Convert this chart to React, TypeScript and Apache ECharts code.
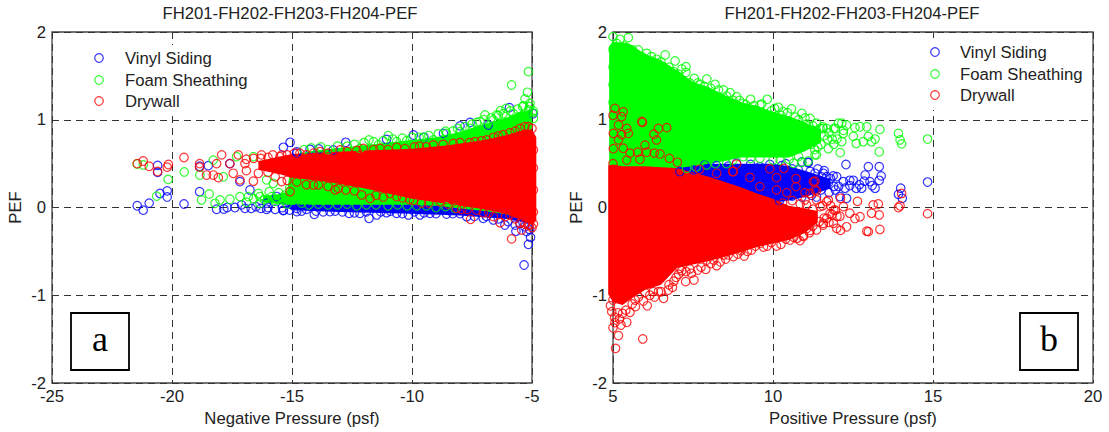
import React, { useEffect, useRef } from "react";
import * as echarts from "echarts";

const titleText = "FH201-FH202-FH203-FH204-PEF";
const materials = ["Vinyl Siding", "Foam Sheathing", "Drywall"];
const colors = ["#0000ff", "#00ff00", "#ff0000"];
const yTicks = [-2, -1, 0, 1, 2];

// Solid core of each dense cloud: [pressure, upper PEF, lower PEF]
const bandLeftBlue = [[-15.2,.07,0],[-15,.25,-.03],[-13,.55,-.05],[-10,.65,-.07],[-8,.75,-.09],[-6,.9,-.13],[-5,.95,-.19]];
const bandLeftGreen = [[-16.2,.13,.06],[-15.6,.15,.04],[-15.2,.18,.03],[-15,.6,.03],[-14,.65,.03],[-12,.71,.03],[-10,.77,.03],[-9,.8,.02],[-8,.86,-.01],[-7,.95,-.04],[-6,1.03,-.08],[-5.5,1.09,-.11],[-5,1.11,-.15]];
const bandLeftRed = [[-16.4,.53,.43],[-15.5,.58,.38],[-15,.61,.34],[-13.5,.63,.29],[-12,.65,.22],[-10,.67,.1],[-8.5,.71,.04],[-7,.77,-.02],[-6,.83,-.08],[-5.4,.88,-.15],[-5,.89,-.2],[-4.82,.8,-.15]];
const bandRightBlue = [[7,.48,.2],[8,.5,.2],[9,.5,.1],[10,.5,.05],[10.5,.47,.08],[11,.42,.12],[11.5,.36,.18],[11.8,.32,.22]];
const bandRightGreen = [[4.88,1.84,.45],[5,1.89,.45],[5.5,1.87,.45],[6,1.75,.45],[6.5,1.68,.45],[7,1.56,.45],[7.5,1.43,.47],[8,1.37,.5],[8.5,1.28,.53],[9,1.2,.57],[9.5,1.16,.57],[10,1.09,.57],[10.5,1.04,.57],[11,.97,.64],[11.5,.89,.74]];
const bandRightRed = [[4.85,.48,-.99],[5,.49,-1.08],[5.3,.47,-1.11],[5.6,.47,-1.03],[6,.47,-.94],[6.5,.46,-.88],[7,.45,-.69],[7.5,.4,-.65],[8,.35,-.61],[8.5,.29,-.56],[9,.23,-.51],[9.5,.16,-.45],[10,.1,-.41],[10.5,.02,-.37],[11,-.01,-.29],[11.4,-.04,-.17]];

// Individually visible circles: [pressure, PEF]
const pointsLeftBlue = [[-21.45,.02],[-21.2,-.03],[-20.95,.05],[-20.5,.16],[-20.2,.19],[-20.2,.12],[-20.6,.48],[-20.6,.4],[-19.5,.04],[-18.85,.18],[-18.85,.47],[-15.08,.743],[-15.36,.686],[-14.8,.62],[-14.25,.663],[-13.88,.667],[-13.28,.655],[-12.76,.743],[-11.06,.777],[-9.94,.826],[-9.5,.8],[-8.69,.845],[-8,.93],[-7.58,.97],[-6.82,.94],[-5.94,1.138],[-4.95,1.07],[-5.33,-.655],[-5.15,-.42],[-5.06,-.34],[-5.67,-.27],[-6.13,-.2],[-5.22,-.275],[-11.79,-.123],[-14.07,-.078],[-15.36,-.036],[-12.62,-.066],[-11.06,-.059],[-10.15,-.085],[-9.25,-.066],[-8.56,-.074],[-7.72,-.105],[-7.03,-.123],[-6.61,-.142],[-14.8,-.047],[-13.42,-.047],[-12.17,-.066],[-11.47,-.085],[-10.64,-.066],[-9.67,-.085],[-18.14,-.02],[-17.84,-.017],[-17.38,0],[-16.96,-.01],[-16.5,.01],[-16.06,-.02],[-15.36,-.03],[-14.8,-.01],[-18.49,.477],[-17.59,.5],[-17.17,.295],[-14.8,.635],[-16.75,.2],[-16.06,.05],[-15.64,.125],[-17.7,0],[-17.1,.03],[-16.7,-.01],[-16.3,-.01],[-16,0],[-15.7,-.02],[-15.4,0],[-15.1,-.03],[-14.6,-.04],[-14.4,-.02],[-14,-.04],[-13.7,-.05],[-13.2,-.04],[-12.9,-.05],[-12.4,-.06],[-11.9,-.05],[-11.3,-.05],[-10.9,-.04],[-10.4,-.07],[-9.9,-.05],[-9.5,-.06],[-9,-.07],[-8.3,-.07],[-8,-.07],[-7.4,-.1],[-6.9,-.1],[-6.4,-.13],[-6,-.16],[-5.7,-.2],[-5.5,-.18],[-5.3,-.22],[-5.1,-.25]];
const pointsLeftGreen = [[-5.15,1.548],[-5.85,1.396],[-5.19,1.313],[-5.29,1.237],[-5.08,1.187],[-5.39,1.149],[-6.31,1.104],[-6.08,1.13],[-6.96,1.054],[-6.47,1.054],[-7.17,.978],[-8,.864],[-9.53,.8],[-10.22,.762],[-10.99,.819],[-11.79,.769],[-11.4,.712],[-12.17,.674],[-5.78,1.073],[-4.94,1.016],[-5.5,1.035],[-5.15,1.111],[-15.08,.188],[-6.61,.997],[-7.58,.9],[-8.56,.845],[-9.11,.769],[-10.64,.75],[-21.45,.496],[-21.2,.485],[-20.64,.13],[-20.16,.32],[-19.49,.405],[-18.84,.37],[-18.77,.086],[-18.45,.154],[-18.21,.048],[-18,.086],[-17.59,.094],[-17.17,.124],[-18.28,.54],[-17.86,.35],[-17.31,.58],[-16.61,.58],[-16.06,.315],[-15.78,.275],[-16.34,.124],[-15.36,.086],[-16.34,.048],[-16.82,.124],[-15.85,.124],[-14.95,.086],[-14.5,.66],[-14.2,.68],[-13.8,.69],[-13.5,.66],[-13.1,.7],[-12.7,.7],[-12.4,.72],[-12,.74],[-11.6,.75],[-11.2,.76],[-10.8,.78],[-10.4,.79],[-10,.8],[-9.7,.8],[-9.3,.82],[-8.9,.84],[-8.6,.87],[-8.3,.87],[-8.1,.9],[-7.8,.92],[-7.5,.95],[-7.3,.97],[-7,1],[-6.7,1.02],[-6.4,1.05],[-6.2,1.07],[-5.9,1.1],[-5.6,1.12],[-5.35,1.16],[-5.1,1.15],[-4.98,1.08],[-4.95,1.1],[-16.9,.06],[-16.6,.1],[-16.4,.16],[-16.15,.09],[-15.95,.18],[-15.7,.07],[-15.55,.17],[-15.3,.14],[-15.1,.22],[-15.2,.04],[-14.8,.14],[-14.6,.05],[-14.3,.03],[-13.9,.04],[-13.5,.03],[-13.1,.03],[-12.7,.04],[-12.3,.02],[-11.9,.03],[-11.5,.03],[-11,.02],[-10.6,.03],[-10.2,.02],[-9.8,.02],[-9.4,.02],[-9,0],[-8.6,.01],[-8.2,-.01]];
const pointsLeftRed = [[-21.45,.5],[-21.2,.53],[-20.95,.47],[-20.6,.41],[-20.15,.49],[-20.2,.46],[-19.5,.57],[-18.85,.5],[-18.85,.46],[-18.14,.5],[-17.59,.5],[-18.28,.37],[-18.07,.34],[-17.93,.6],[-18.56,.37],[-17.24,.6],[-17.17,.315],[-16.61,.3],[-16.27,.6],[-15.43,.6],[-15.43,.295],[-15.08,.18],[-17.45,.39],[-16.96,.5],[-13.07,.218],[-12.76,.2],[-12.1,.143],[-11.75,.105],[-10.92,.162],[-9.94,.078],[-8.83,.066],[-7.93,-.02],[-7.56,-.135],[-7.03,-.06],[-5.85,-.358],[-6.33,-.173],[-5.43,-.256],[-4.94,-.188],[-5.92,-.085],[-5.15,.921],[-5.92,.853],[-6.4,.815],[-6.89,.769],[-7.38,.75],[-8.28,.731],[-9.69,.7],[-10.64,.686],[-13,.655],[-14.67,.62],[-13.83,.636],[-12.03,.674],[-11.33,.674],[-9.11,.712],[-14.11,.257],[-10.64,.124],[-8.14,-.01],[-6.61,-.104],[-5.5,-.18],[-5.15,-.2],[-4.94,.655],[-4.94,.45],[-4.94,.2],[-4.94,-.05],[-16.9,.55],[-16.6,.56],[-16.3,.56],[-16,.57],[-15.8,.6],[-15.5,.58],[-15.2,.6],[-14.9,.62],[-14.4,.6],[-14.1,.62],[-13.5,.62],[-12.7,.64],[-12.3,.65],[-11.6,.66],[-11,.66],[-10.3,.67],[-9.9,.69],[-9.4,.69],[-8.7,.72],[-8,.74],[-7.6,.74],[-7.1,.76],[-6.6,.8],[-6.2,.83],[-5.7,.87],[-5.5,.9],[-5.3,.92],[-5,.9],[-16.9,.42],[-16.4,.39],[-16,.4],[-15.7,.35],[-15.2,.31],[-14.8,.29],[-14.4,.26],[-13.9,.26],[-13.5,.24],[-13.2,.2],[-12.4,.19],[-11.5,.14],[-11.2,.12],[-10.4,.11],[-10.1,.09],[-9.6,.05],[-9.3,.05],[-8.5,.04],[-7.7,-.02],[-7.3,-.03],[-6.8,-.06],[-6.1,-.1],[-5.7,-.13],[-5.3,-.19],[-5.1,-.2],[-5,-.23]];
const pointsRightBlue = [[12.28,.49],[12.98,.465],[13.32,.465],[13.38,.36],[12.88,.37],[13.32,.31],[13.03,.295],[13.19,.22],[12.77,.22],[12.51,.31],[11.88,.36],[12.2,.295],[11.9,.24],[14.83,.29],[13.99,.22],[13.92,.15],[14.04,.105],[12.3,.105],[12.09,.125],[12.4,.31],[11.52,.35],[11.31,.39],[11.1,.51],[10.9,.52],[11.73,.28],[11.36,.12],[8.24,.477],[8.86,.504],[9.59,.466],[10.27,.477],[11.1,.515],[11.68,.352],[11.99,.352],[11.57,.39],[11.16,.41],[10.79,.428],[7.51,.428],[7.87,.485],[7.09,.41],[10.2,.08],[10.6,.13],[10.9,.12],[11.2,.14],[11.5,.2],[11.75,.17],[11.95,.2],[12.05,.24],[12.25,.22],[12.4,.25],[12.6,.22],[12.7,.26],[12.85,.3],[13.1,.25],[11.8,.33],[11.6,.42],[11.4,.44],[10.6,.44],[10.4,.5],[9.9,.49],[9.3,.49],[8.6,.47]];
const pointsRightGreen = [[5,1.947],[5.22,1.917],[5.48,1.936],[5.79,1.795],[6.05,1.757],[6.36,1.689],[6.63,1.738],[6.94,1.67],[7.28,1.605],[7.28,1.54],[7.54,1.472],[7.93,1.465],[8.19,1.404],[8.66,1.309],[8.86,1.263],[9.3,1.233],[9.82,1.233],[10.17,1.142],[10.58,1.123],[10.9,1.073],[11.16,1.016],[11.68,.9],[11.36,.96],[12.04,.96],[5.11,1.871],[5.64,1.719],[6.89,1.548],[7.72,1.396],[8.45,1.339],[9.07,1.187],[9.59,1.168],[10.32,1.092],[11.47,.9],[11.36,.6],[11.73,.67],[11.1,.53],[10.9,.515],[10.64,.504],[10.22,.54],[9.59,.56],[9.07,.58],[8.55,.5],[7.93,.485],[7.3,.447],[13.34,.89],[13.92,.845],[13.97,.77],[14.02,.725],[14.83,.78],[13.32,.635],[12.1,.625],[12.93,.92],[12.72,.92],[12.56,.91],[12.15,.96],[12.3,.94],[12.98,.81],[13.19,.78],[12.82,.75],[12.6,.73],[12.15,.75],[12.51,.81],[13.08,.75],[12.2,.845],[11.9,.9],[11.57,.9],[11.31,.6],[11.4,.69],[5,1.8],[5,1.6],[5,1.4],[5,1.2],[5.1,1.78],[5.35,1.84],[5.6,1.8],[5.9,1.72],[6.2,1.72],[6.5,1.66],[6.75,1.6],[7.05,1.52],[7.15,1.58],[7.4,1.42],[7.65,1.42],[7.85,1.38],[8.05,1.36],[8.3,1.34],[8.55,1.27],[8.75,1.22],[8.95,1.22],[9.15,1.17],[9.4,1.16],[9.65,1.18],[9.95,1.1],[10.05,1.13],[10.25,1.05],[10.45,1.08],[10.7,1.03],[10.8,1],[11,1.02],[11.05,.95],[11.25,.93],[11.35,.88],[11.55,.92],[11.6,.82],[11.75,.85],[11.85,.78],[11.95,.9],[12,.78],[12.2,.88],[11.2,.72],[11.5,.72],[11.7,.78],[11.3,.66],[11.9,.72],[10.8,.58],[10.5,.55],[10,.54],[9.3,.56],[8.75,.54],[8.2,.5],[7.6,.46]];
const pointsRightRed = [[5.06,1.13],[5.32,1.09],[5,1.05],[5.27,1.035],[5.9,.98],[5.92,.97],[6.68,.91],[6.42,.9],[6.28,.835],[6.36,.77],[5.17,.94],[5.43,.9],[5.01,.845],[5.27,.83],[5.48,.845],[5.17,.77],[5.01,.67],[5.32,.675],[6,.71],[5.53,.62],[5.77,.63],[6.05,.63],[6.29,.62],[6.47,.61],[6.76,.56],[7.01,.515],[5,.5],[5.43,.54],[5.84,.55],[7.7,.435],[8.86,.495],[9.9,.44],[10.34,.445],[10.72,.33],[11.31,.3],[11.36,.19],[8.76,.41],[14.02,.16],[13.92,0],[13.97,.02],[14.83,-.07],[13.34,-.25],[12.93,-.27],[12.98,-.275],[13.32,-.085],[13.29,.04],[13.13,.03],[12.64,.07],[12.11,.105],[12.2,.01],[12.72,-.105],[12.11,-.26],[12.3,-.22],[11.73,.085],[11.78,-.07],[11.26,.295],[11.31,.2],[11,.17],[11.16,-.26],[10.95,-.33],[13.08,-.065],[12.4,-.065],[12.56,-.125],[12.09,-.1],[11.57,-.18],[11.47,.01],[4.96,-1.187],[5.06,-1.312],[5,-1.37],[5.25,-1.339],[5.43,-1.308],[5.17,-1.46],[5.08,-1.605],[5.93,-1.498],[6.07,-1.12],[5.95,-1.066],[5.53,-1.195],[5.3,-1.206],[6.58,-1.035],[6.26,-.959],[6,-.967],[6.86,-.91],[6.97,-.796],[7.27,-.845],[7.53,-.826],[7.28,-.73],[7.65,-.712],[7.9,-.705],[8.24,-.663],[8.52,-.587],[8.76,-.56],[9.1,-.553],[9.33,-.484],[9.82,-.439],[10.11,-.439],[9.59,-.408],[10.53,-.37],[10.84,-.378],[11.14,-.287],[11.68,-.123],[11.99,-.237],[11.89,-.18],[5,-1.054],[5.69,-1.054],[6.42,-.959],[6.73,-.94],[7.09,-.693],[7.93,-.598],[8.45,-.541],[11.36,-.256],[11.57,-.2],[8.24,.39],[8.74,.41],[9.28,.344],[10.11,.34],[10.43,.17],[10.72,.238],[11.36,.086],[11,.086],[11.68,.067],[9.59,.238],[11.16,.162],[10.11,.2],[4.92,-1.12],[5.15,-1.2],[5.4,-1.17],[5.2,-1.27],[5.05,-1.25],[5.6,-1.1],[5.8,-1.02],[5.7,-1.13],[6.15,-1],[6.3,-1.02],[6.5,-.96],[6.75,-.88],[6.9,-.84],[7.05,-.76],[7.15,-.72],[7.4,-.7],[7.45,-.75],[7.75,-.68],[8.05,-.64],[8.15,-.6],[8.35,-.62],[8.6,-.54],[8.9,-.53],[9,-.49],[9.2,-.5],[9.45,-.44],[9.7,-.45],[9.95,-.4],[10.25,-.42],[10.4,-.36],[10.65,-.34],[10.75,-.35],[10.95,-.32],[11.05,-.24],[11.25,-.21],[11.45,-.16],[11.6,-.12],[11.75,-.17],[11.85,-.08],[12,-.1],[11.95,-.03],[10.3,.05],[10.6,.08],[10.85,.04],[11.05,.03],[11.25,-.02],[11.55,.02],[11.8,.02],[11.9,-.03]];

const bandSeries = (band: number[][], color: string, axis: number) => ({
  type: "custom",
  xAxisIndex: axis,
  yAxisIndex: axis,
  silent: true,
  data: band,
  encode: { x: 0, y: [1, 2] },
  renderItem: (params: any, api: any) => {
    if (params.dataIndex !== 0) return null;
    const upper = band.map((r) => api.coord([r[0], r[1]]));
    const lower = band.map((r) => api.coord([r[0], r[2]])).reverse();
    return { type: "polygon", shape: { points: upper.concat(lower) }, style: { fill: color } };
  },
});

const scatterSeries = (name: string, points: number[][], color: string, axis: number) => ({
  type: "scatter",
  name,
  xAxisIndex: axis,
  yAxisIndex: axis,
  clip: false,
  symbol: "circle",
  symbolSize: 8.5,
  itemStyle: { color: "transparent", borderColor: color, borderWidth: 1.2, opacity: 0.8 },
  data: points,
});

const font = "Liberation Sans, Arial, sans-serif";
const textColor = "#222";
const fontSize = 16.7;

const legendGraphic = (cx: number, tx: number, ys: number[], box: number[]) => [
  { type: "rect", z: 40, shape: { x: box[0], y: box[1], width: box[2], height: box[3] }, style: { fill: "#fff" } },
  ...materials.flatMap((m, i) => [
    { type: "circle", z: 41, shape: { cx, cy: ys[i], r: 4.3 }, style: { fill: "transparent", stroke: colors[i], lineWidth: 1.2, opacity: 0.8 } },
    { type: "text", z: 41, x: tx, y: ys[i], style: { text: m, font: `${fontSize}px ${font}`, fill: textColor, verticalAlign: "middle" } },
  ]),
];

const boxGraphic = (x: number, label: string) => [
  { type: "rect", shape: { x, y: 313, width: 58, height: 57 }, style: { fill: "#fff", stroke: "#000", lineWidth: 1.8 }, z: 50 },
  { type: "text", x: x + 29, y: 339, z: 51, style: { text: label, font: "36px Liberation Serif, serif", fill: "#000", align: "center", verticalAlign: "middle" } },
];

const gridLine = { show: true, lineStyle: { type: [7, 5], color: "#333", width: 1 } };

const xAxis = (gridIndex: number, min: number, max: number, name: string) => ({
  type: "value", gridIndex, min, max, interval: 5, name, nameLocation: "middle", nameGap: 26,
  nameTextStyle: { fontSize, fontFamily: font, color: textColor },
  axisLine: { show: false }, axisTick: { show: false },
  axisLabel: { fontSize, fontFamily: font, color: textColor, margin: 5 },
  splitLine: gridLine,
});
const yAxis = (gridIndex: number) => ({
  type: "value", gridIndex, min: -2, max: 2, interval: 1, name: "PEF", nameLocation: "middle", nameGap: 28,
  nameTextStyle: { fontSize, fontFamily: font, color: textColor },
  axisLine: { show: false }, axisTick: { show: false },
  axisLabel: { fontSize, fontFamily: font, color: textColor, margin: 6, formatter: (v: number) => (yTicks.includes(v) ? String(v) : "") },
  splitLine: gridLine,
});

export default function App() {
  const ref = useRef<HTMLDivElement>(null);
  useEffect(() => {
    const chart = echarts.init(ref.current!, undefined, { renderer: "svg" });
    const titleStyle = { fontSize, fontWeight: "normal", fontFamily: font, color: textColor };
    chart.setOption({
      animation: false,
      backgroundColor: "#fff",
      title: [
        { text: titleText, left: 285, top: 0, textAlign: "center", textStyle: titleStyle },
        { text: titleText, left: 847, top: 0, textAlign: "center", textStyle: titleStyle },
      ],
      grid: [
        { left: 52, top: 32, width: 480, height: 351, show: true, borderColor: "#444", borderWidth: 1.3, backgroundColor: "transparent" },
        { left: 613, top: 32, width: 480, height: 351, show: true, borderColor: "#444", borderWidth: 1.3, backgroundColor: "transparent" },
      ],
      xAxis: [xAxis(0, -25, -5, "Negative Pressure (psf)"), xAxis(1, 5, 20, "Positive Pressure (psf)")],
      yAxis: [yAxis(0), yAxis(1)],
      series: [
        bandSeries(bandLeftBlue, colors[0], 0),
        scatterSeries(materials[0], pointsLeftBlue, colors[0], 0),
        bandSeries(bandLeftGreen, colors[1], 0),
        scatterSeries(materials[1], pointsLeftGreen, colors[1], 0),
        bandSeries(bandLeftRed, colors[2], 0),
        scatterSeries(materials[2], pointsLeftRed, colors[2], 0),
        bandSeries(bandRightBlue, colors[0], 1),
        scatterSeries(materials[0], pointsRightBlue, colors[0], 1),
        bandSeries(bandRightGreen, colors[1], 1),
        scatterSeries(materials[1], pointsRightGreen, colors[1], 1),
        bandSeries(bandRightRed, colors[2], 1),
        scatterSeries(materials[2], pointsRightRed, colors[2], 1),
      ],
      graphic: [
        ...legendGraphic(99, 125, [58, 80, 101], [85, 45, 170, 70]),
        ...legendGraphic(935, 960, [52, 74, 95], [921, 38, 168, 72]),
        ...boxGraphic(71, "a"),
        ...boxGraphic(1020, "b"),
      ],
    });
    return () => chart.dispose();
  }, []);
  return <div ref={ref} style={{ position: "fixed", left: 0, top: 0, width: 1109, height: 432 }} />;
}
